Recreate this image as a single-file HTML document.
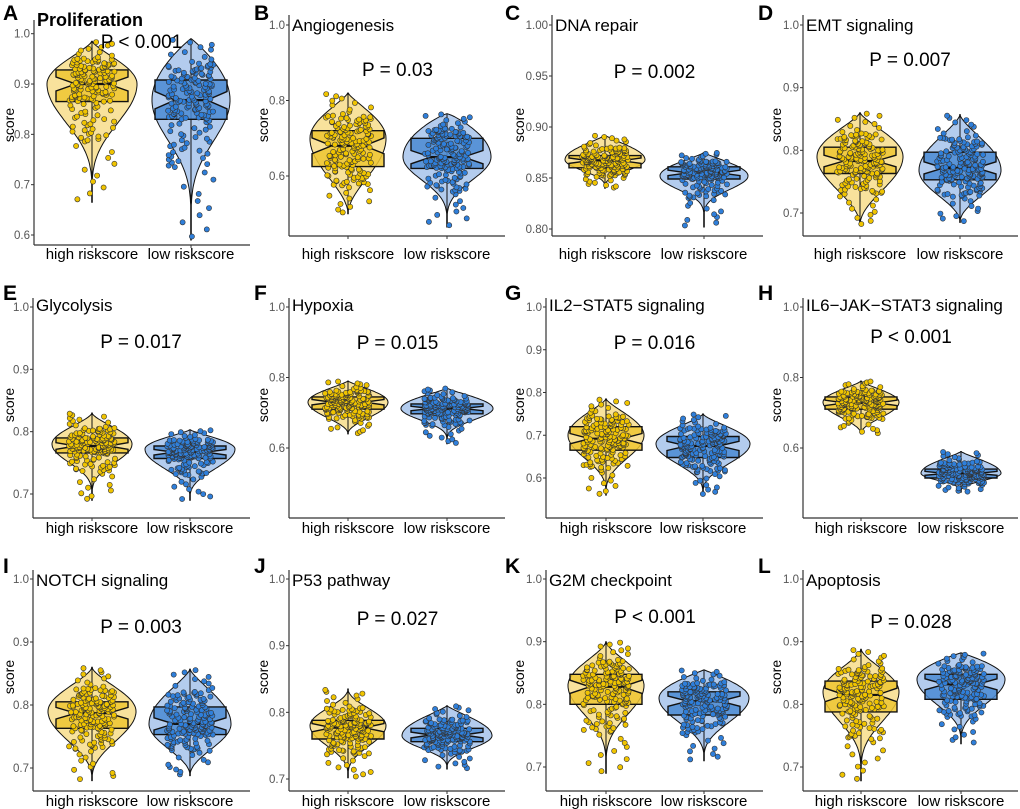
<!DOCTYPE html>
<html><head><meta charset="utf-8"><style>
html,body{margin:0;padding:0;background:#fff;}
svg{display:block;font-family:"Liberation Sans",Arial,sans-serif;}
</style></head><body>
<svg id="fig" width="1020" height="809" viewBox="0 0 1020 809" xmlns="http://www.w3.org/2000/svg"></svg>
<script>
// ---- data ----
const panelLetters = ["A","B","C","D","E","F","G","H","I","J","K","L"];
const panelTitles = ["Proliferation","Angiogenesis","DNA repair","EMT signaling","Glycolysis","Hypoxia","IL2\u2212STAT5 signaling","IL6\u2212JAK\u2212STAT3 signaling","NOTCH signaling","P53 pathway","G2M checkpoint","Apoptosis"];
const pLabels = ["P < 0.001","P = 0.03","P = 0.002","P = 0.007","P = 0.017","P = 0.015","P = 0.016","P < 0.001","P = 0.003","P = 0.027","P < 0.001","P = 0.028"];
const categories = ["high riskscore","low riskscore"];
const tickValues = [
  [1.0,0.9,0.8,0.7,0.6],[1.0,0.8,0.6],[1.00,0.95,0.90,0.85,0.80],[1.0,0.9,0.8,0.7],
  [1.0,0.9,0.8,0.7],[1.0,0.8,0.6],[1.0,0.9,0.8,0.7,0.6],[1.0,0.8,0.6],
  [1.0,0.9,0.8,0.7],[1.0,0.9,0.8,0.7],[1.0,0.9,0.8,0.7],[1.0,0.9,0.8,0.7]];
const tickDecimals = [1,1,2,1,1,1,1,1,1,1,1,1];
// [min, q1, median, q3, max]
const highStats = [
  [0.665,0.865,0.900,0.928,0.985],[0.500,0.625,0.680,0.720,0.820],[0.840,0.860,0.867,0.872,0.892],[0.680,0.763,0.783,0.805,0.860],
  [0.690,0.766,0.777,0.790,0.830],[0.640,0.710,0.730,0.745,0.790],[0.560,0.665,0.692,0.720,0.785],[0.640,0.710,0.728,0.745,0.790],
  [0.680,0.763,0.787,0.805,0.860],[0.702,0.760,0.777,0.788,0.835],[0.690,0.800,0.828,0.848,0.900],[0.678,0.788,0.815,0.837,0.888]];
const lowStats = [
  [0.590,0.830,0.868,0.908,0.990],[0.465,0.620,0.650,0.700,0.765],[0.802,0.849,0.855,0.861,0.875],[0.685,0.753,0.772,0.797,0.857],
  [0.690,0.757,0.767,0.777,0.803],[0.612,0.697,0.712,0.725,0.770],[0.560,0.648,0.675,0.697,0.750],[0.475,0.515,0.528,0.540,0.590],
  [0.688,0.753,0.770,0.797,0.857],[0.715,0.756,0.766,0.776,0.810],[0.710,0.783,0.805,0.820,0.855],[0.737,0.808,0.832,0.848,0.882]];
const highMode = [0.900,0.700,0.868,0.790,0.780,0.730,0.700,0.730,0.790,0.780,0.830,0.820];
const lowMode  = [0.868,0.650,0.852,0.768,0.772,0.712,0.680,0.528,0.770,0.765,0.810,0.840];

// ---- layout (pixels, not data) ----
const layout = [
 {ax:34,top:20,xy:245,right:250,t0:33.7,t1:235,cH:92,cL:191,py:48,row:0,col:0},
 {ax:289,top:15,xy:236,right:505,t0:25,t1:176,cH:348,cL:447,py:76,row:0,col:1},
 {ax:552,top:15,xy:236,right:763,t0:25,t1:229,cH:605,cL:704,py:78,row:0,col:2},
 {ax:803,top:15,xy:236,right:1018,t0:25,t1:213,cH:860,cL:960,py:66,row:0,col:3},
 {ax:33,top:298,xy:518,right:250,t0:307,t1:494,cH:92,cL:190,py:348,row:1,col:0},
 {ax:289,top:298,xy:518,right:505,t0:307,t1:448,cH:348,cL:447,py:349,row:1,col:1},
 {ax:546,top:298,xy:518,right:763,t0:307,t1:478,cH:606,cL:703,py:349,row:1,col:2},
 {ax:803,top:298,xy:518,right:1018,t0:307,t1:448,cH:861,cL:961,py:343,row:1,col:3},
 {ax:33,top:570,xy:791,right:250,t0:579,t1:768,cH:92,cL:190,py:633,row:2,col:0},
 {ax:289,top:570,xy:791,right:505,t0:579,t1:779,cH:348,cL:447,py:625,row:2,col:1},
 {ax:546,top:570,xy:791,right:763,t0:579,t1:767,cH:606,cL:704,py:623,row:2,col:2},
 {ax:803,top:570,xy:791,right:1018,t0:579,t1:767,cH:861,cL:961,py:628,row:2,col:3}];
const highShape = [[4,1.3],[1.8,1.2],[3,1.2],[2,1.3],[4,1.5],[2,1.2],[3,1.3],[2,1.3],[2.5,1.5],[3,2],[4,1.5],[4,1.5]];
const lowShape  = [[5,0.9],[4,0.8],[6,1.2],[2,1.4],[3,1.2],[4,1.2],[3,1.4],[3,1.2],[2,1.3],[3,1.2],[3,1],[3,0.9]];
const highW = [45,38,40,43,40,40,38,38,44,38,38,38];
const lowW  = [39,44,44,41,45,46,47,40,41,45,45,44];
const letterX = [3,254,505,758], letterBase=[20,300,573];
const titleBase=[26,31,311,586], scoreX=[14,268,524,781], scoreY=[125,405,677], xLabBase=[259,533,806];
const titleBaseFor = (i,L)=> i===0?26:(L.row===0?31:titleBase[L.row+1]);

const NS="http://www.w3.org/2000/svg";
const svg=document.getElementById('fig');
function mk(tag,attrs,parent){const e=document.createElementNS(NS,tag);for(const k in attrs)e.setAttribute(k,attrs[k]);(parent||svg).appendChild(e);return e;}
function hash(i){const s=Math.sin(i*12.9898+78.233)*43758.5453;return s-Math.floor(s);}
// quantile through min..max with sparse tails
function quant(st,p){
  const lo=st[1]-(st[1]-st[0])*0.4, hi=st[3]+(st[4]-st[3])*0.4;
  const vs=[st[0],lo,st[1],st[2],st[3],hi,st[4]];
  const ps=[0,0.06,0.25,0.5,0.75,0.94,1];
  for(let k=0;k<6;k++){if(p<=ps[k+1]){const f=(p-ps[k])/(ps[k+1]-ps[k]);return vs[k]+f*(vs[k+1]-vs[k]);}}
  return st[4];
}

const COL={high:{vio:"#f8e29c",box:"#efc531",pt:"#f0c400"},low:{vio:"#b3ccee",box:"#4a89d2",pt:"#2f7fda"}};

for(let i=0;i<12;i++){
  const L=layout[i];
  const tv=tickValues[i];
  const v0=tv[0],v1=tv[tv.length-1];
  const yS=v=>L.t0+(v-v0)/(v1-v0)*(L.t1-L.t0);
  const g=mk('g',{});
  
  
  const yax=mk('line',{x1:L.ax,y1:L.top,x2:L.ax,y2:L.xy,stroke:"#333","stroke-width":1.2},g);
  
  
  const xax=mk('line',{x1:L.ax,y1:L.xy,x2:L.right,y2:L.xy,stroke:"#333","stroke-width":1.2},g);
  
  
  tv.forEach(t=>{
    const y=yS(t);
    mk('line',{x1:L.ax-3,y1:y,x2:L.ax,y2:y,stroke:"#333","stroke-width":1},g);
    const tx=mk('text',{x:L.ax-4,y:y+4,"text-anchor":"end","font-size":11.5,fill:"#555"},g);
    tx.textContent=t.toFixed(tickDecimals[i]);
    
    
  });
  const lt=mk('text',{x:letterX[L.col],y:letterBase[L.row],"font-size":21,"font-weight":"bold",fill:"#000"},g);
  lt.textContent=panelLetters[i];
  
  
  const ti=mk('text',{x:L.ax+3,y:titleBaseFor(i,L),"font-size":i===0?18:17,"font-weight":i===0?"bold":"normal",fill:"#000"},g);
  ti.textContent=panelTitles[i];
  
  
  const sc=mk('text',{x:scoreX[L.col],y:scoreY[L.row],"font-size":14,fill:"#000","text-anchor":"middle",transform:`rotate(-90 ${scoreX[L.col]} ${scoreY[L.row]})`},g);
  sc.textContent="score";
  
  
  [L.cH,L.cL].forEach((c,k)=>{
    mk('line',{x1:c,y1:L.xy,x2:c,y2:L.xy+3,stroke:"#333"},g);
    const xl=mk('text',{x:c,y:xLabBase[L.row],"font-size":15,"text-anchor":"middle",fill:"#000"},g);
    xl.textContent=categories[k];
    
    
  });
  const groups=[{st:highStats[i],mode:highMode[i],sh:highShape[i],W:highW[i],c:L.cH,col:COL.high,nm:'high'},
                {st:lowStats[i],mode:lowMode[i],sh:lowShape[i],W:lowW[i],c:L.cL,col:COL.low,nm:'low'}];
  groups.forEach((G,gi)=>{
    const st=G.st,c=G.c;
    const wf=v=>{let t,p;if(v<=G.mode){t=(v-st[0])/(G.mode-st[0]);p=G.sh[0];}else{t=(st[4]-v)/(st[4]-G.mode);p=G.sh[1];}
      t=Math.max(0,Math.min(1,t));return Math.max(0.3,G.W*Math.pow(Math.sin(t*Math.PI/2),p));};
    const N=80;let R=[],Lf=[];
    for(let k=0;k<=N;k++){const v=st[0]+(st[4]-st[0])*k/N;const w=wf(v);R.push([c+w,yS(v)]);Lf.push([c-w,yS(v)]);}
    const pts=R.concat(Lf.reverse());
    const vio=mk('path',{d:"M"+pts.map(p=>p[0].toFixed(1)+","+p[1].toFixed(1)).join("L")+"Z",fill:G.col.vio,stroke:"#111","stroke-width":1},g);
    
    
    const wh=mk('line',{x1:c,y1:yS(st[0]),x2:c,y2:yS(st[4]),stroke:"#111","stroke-width":1},g);
    
    
    const h=36,iq=st[3]-st[1],n=0.22*iq,ins=h*0.45;
    const Y=yS;
    const bp=[[c-h,Y(st[3])],[c+h,Y(st[3])],[c+h,Y(st[2]+n)],[c+ins,Y(st[2])],[c+h,Y(st[2]-n)],[c+h,Y(st[1])],[c-h,Y(st[1])],[c-h,Y(st[2]-n)],[c-ins,Y(st[2])],[c-h,Y(st[2]+n)]];
    const box=mk('path',{d:"M"+bp.map(p=>p[0].toFixed(1)+","+p[1].toFixed(1)).join("L")+"Z",fill:G.col.box,"fill-opacity":0.85,stroke:"#111","stroke-width":1.4},g);
    
    
    const md=mk('line',{x1:c-ins,y1:Y(st[2]),x2:c+ins,y2:Y(st[2]),stroke:"#111","stroke-width":2.2},g);
    
    
    const NP=170;
    for(let k=0;k<NP;k++){
      const v=quant(st,(k+0.5)/NP);
      const jx=(hash(k*3+gi*977+i*131)-0.5)*46;
      const dot=mk('circle',{cx:(c+jx).toFixed(1),cy:Y(v).toFixed(1),r:2.6,fill:G.col.pt,stroke:"#333","stroke-width":0.6},g);
      
      
    }
  });
  const pt=mk('text',{x:(L.cH+L.cL)/2,y:L.py,"font-size":19,"text-anchor":"middle",fill:"#000"},g);
  pt.textContent=pLabels[i];
  
  
}
</script>
</body></html>
